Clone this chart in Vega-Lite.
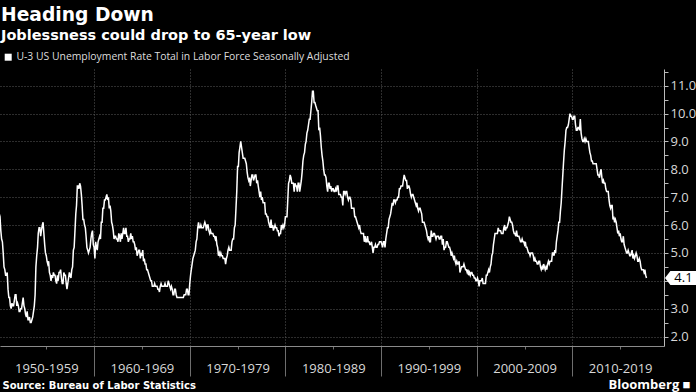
{
"$schema": "https://vega.github.io/schema/vega-lite/v6.json",
"width": 664, "height": 277,
"autosize": {"type": "none"},
"padding": {"left": 0, "top": 69, "right": 32, "bottom": 46},
"background": "black",
"title": {"text": "Heading Down", "subtitle": "Joblessness could drop to 65-year low", "anchor": "start", "frame": "group", "dx": 1, "offset": 10, "font": "DejaVu Sans", "fontSize": 18.7, "fontWeight": "bold", "color": "white", "subtitleFont": "DejaVu Sans", "subtitleFontSize": 14.5, "subtitleFontWeight": "bold", "subtitleColor": "white", "subtitlePadding": 4},
"datasets": {
"u": [
{"t":"1950-01-01","u":6.5},{"t":"1950-02-01","u":6.4},{"t":"1950-03-01","u":6.3},{"t":"1950-04-01","u":5.8},{"t":"1950-05-01","u":5.5},{"t":"1950-06-01","u":5.4},{"t":"1950-07-01","u":5.0},{"t":"1950-08-01","u":4.5},{"t":"1950-09-01","u":4.4},{"t":"1950-10-01","u":4.2},{"t":"1950-11-01","u":4.2},{"t":"1950-12-01","u":4.3},
{"t":"1951-01-01","u":3.7},{"t":"1951-02-01","u":3.4},{"t":"1951-03-01","u":3.4},{"t":"1951-04-01","u":3.1},{"t":"1951-05-01","u":3.0},{"t":"1951-06-01","u":3.2},{"t":"1951-07-01","u":3.1},{"t":"1951-08-01","u":3.1},{"t":"1951-09-01","u":3.3},{"t":"1951-10-01","u":3.5},{"t":"1951-11-01","u":3.5},{"t":"1951-12-01","u":3.1},
{"t":"1952-01-01","u":3.2},{"t":"1952-02-01","u":3.1},{"t":"1952-03-01","u":2.9},{"t":"1952-04-01","u":2.9},{"t":"1952-05-01","u":3.0},{"t":"1952-06-01","u":3.0},{"t":"1952-07-01","u":3.2},{"t":"1952-08-01","u":3.4},{"t":"1952-09-01","u":3.1},{"t":"1952-10-01","u":3.0},{"t":"1952-11-01","u":2.8},{"t":"1952-12-01","u":2.7},
{"t":"1953-01-01","u":2.9},{"t":"1953-02-01","u":2.6},{"t":"1953-03-01","u":2.6},{"t":"1953-04-01","u":2.7},{"t":"1953-05-01","u":2.5},{"t":"1953-06-01","u":2.5},{"t":"1953-07-01","u":2.6},{"t":"1953-08-01","u":2.7},{"t":"1953-09-01","u":2.9},{"t":"1953-10-01","u":3.1},{"t":"1953-11-01","u":3.5},{"t":"1953-12-01","u":4.5},
{"t":"1954-01-01","u":4.9},{"t":"1954-02-01","u":5.2},{"t":"1954-03-01","u":5.7},{"t":"1954-04-01","u":5.9},{"t":"1954-05-01","u":5.9},{"t":"1954-06-01","u":5.6},{"t":"1954-07-01","u":5.8},{"t":"1954-08-01","u":6.0},{"t":"1954-09-01","u":6.1},{"t":"1954-10-01","u":5.7},{"t":"1954-11-01","u":5.3},{"t":"1954-12-01","u":5.0},
{"t":"1955-01-01","u":4.9},{"t":"1955-02-01","u":4.7},{"t":"1955-03-01","u":4.6},{"t":"1955-04-01","u":4.7},{"t":"1955-05-01","u":4.3},{"t":"1955-06-01","u":4.2},{"t":"1955-07-01","u":4.0},{"t":"1955-08-01","u":4.2},{"t":"1955-09-01","u":4.1},{"t":"1955-10-01","u":4.3},{"t":"1955-11-01","u":4.2},{"t":"1955-12-01","u":4.2},
{"t":"1956-01-01","u":4.0},{"t":"1956-02-01","u":3.9},{"t":"1956-03-01","u":4.2},{"t":"1956-04-01","u":4.0},{"t":"1956-05-01","u":4.3},{"t":"1956-06-01","u":4.3},{"t":"1956-07-01","u":4.4},{"t":"1956-08-01","u":4.1},{"t":"1956-09-01","u":3.9},{"t":"1956-10-01","u":3.9},{"t":"1956-11-01","u":4.3},{"t":"1956-12-01","u":4.2},
{"t":"1957-01-01","u":4.2},{"t":"1957-02-01","u":3.9},{"t":"1957-03-01","u":3.7},{"t":"1957-04-01","u":3.9},{"t":"1957-05-01","u":4.1},{"t":"1957-06-01","u":4.3},{"t":"1957-07-01","u":4.2},{"t":"1957-08-01","u":4.1},{"t":"1957-09-01","u":4.4},{"t":"1957-10-01","u":4.5},{"t":"1957-11-01","u":5.1},{"t":"1957-12-01","u":5.2},
{"t":"1958-01-01","u":5.8},{"t":"1958-02-01","u":6.4},{"t":"1958-03-01","u":6.7},{"t":"1958-04-01","u":7.4},{"t":"1958-05-01","u":7.4},{"t":"1958-06-01","u":7.3},{"t":"1958-07-01","u":7.5},{"t":"1958-08-01","u":7.4},{"t":"1958-09-01","u":7.1},{"t":"1958-10-01","u":6.7},{"t":"1958-11-01","u":6.2},{"t":"1958-12-01","u":6.2},
{"t":"1959-01-01","u":6.0},{"t":"1959-02-01","u":5.9},{"t":"1959-03-01","u":5.6},{"t":"1959-04-01","u":5.2},{"t":"1959-05-01","u":5.1},{"t":"1959-06-01","u":5.0},{"t":"1959-07-01","u":5.1},{"t":"1959-08-01","u":5.2},{"t":"1959-09-01","u":5.5},{"t":"1959-10-01","u":5.7},{"t":"1959-11-01","u":5.8},{"t":"1959-12-01","u":5.3},
{"t":"1960-01-01","u":5.2},{"t":"1960-02-01","u":4.8},{"t":"1960-03-01","u":5.4},{"t":"1960-04-01","u":5.2},{"t":"1960-05-01","u":5.1},{"t":"1960-06-01","u":5.4},{"t":"1960-07-01","u":5.5},{"t":"1960-08-01","u":5.6},{"t":"1960-09-01","u":5.5},{"t":"1960-10-01","u":6.1},{"t":"1960-11-01","u":6.1},{"t":"1960-12-01","u":6.6},
{"t":"1961-01-01","u":6.6},{"t":"1961-02-01","u":6.9},{"t":"1961-03-01","u":6.9},{"t":"1961-04-01","u":7.0},{"t":"1961-05-01","u":7.1},{"t":"1961-06-01","u":6.9},{"t":"1961-07-01","u":7.0},{"t":"1961-08-01","u":6.6},{"t":"1961-09-01","u":6.7},{"t":"1961-10-01","u":6.5},{"t":"1961-11-01","u":6.1},{"t":"1961-12-01","u":6.0},
{"t":"1962-01-01","u":5.8},{"t":"1962-02-01","u":5.5},{"t":"1962-03-01","u":5.6},{"t":"1962-04-01","u":5.6},{"t":"1962-05-01","u":5.5},{"t":"1962-06-01","u":5.5},{"t":"1962-07-01","u":5.4},{"t":"1962-08-01","u":5.7},{"t":"1962-09-01","u":5.6},{"t":"1962-10-01","u":5.4},{"t":"1962-11-01","u":5.7},{"t":"1962-12-01","u":5.5},
{"t":"1963-01-01","u":5.7},{"t":"1963-02-01","u":5.9},{"t":"1963-03-01","u":5.7},{"t":"1963-04-01","u":5.7},{"t":"1963-05-01","u":5.9},{"t":"1963-06-01","u":5.6},{"t":"1963-07-01","u":5.6},{"t":"1963-08-01","u":5.4},{"t":"1963-09-01","u":5.5},{"t":"1963-10-01","u":5.5},{"t":"1963-11-01","u":5.7},{"t":"1963-12-01","u":5.5},
{"t":"1964-01-01","u":5.6},{"t":"1964-02-01","u":5.4},{"t":"1964-03-01","u":5.4},{"t":"1964-04-01","u":5.3},{"t":"1964-05-01","u":5.1},{"t":"1964-06-01","u":5.2},{"t":"1964-07-01","u":4.9},{"t":"1964-08-01","u":5.0},{"t":"1964-09-01","u":5.1},{"t":"1964-10-01","u":5.1},{"t":"1964-11-01","u":4.8},{"t":"1964-12-01","u":5.0},
{"t":"1965-01-01","u":4.9},{"t":"1965-02-01","u":5.1},{"t":"1965-03-01","u":4.7},{"t":"1965-04-01","u":4.8},{"t":"1965-05-01","u":4.6},{"t":"1965-06-01","u":4.6},{"t":"1965-07-01","u":4.4},{"t":"1965-08-01","u":4.4},{"t":"1965-09-01","u":4.3},{"t":"1965-10-01","u":4.2},{"t":"1965-11-01","u":4.1},{"t":"1965-12-01","u":4.0},
{"t":"1966-01-01","u":4.0},{"t":"1966-02-01","u":3.8},{"t":"1966-03-01","u":3.8},{"t":"1966-04-01","u":3.8},{"t":"1966-05-01","u":3.9},{"t":"1966-06-01","u":3.8},{"t":"1966-07-01","u":3.8},{"t":"1966-08-01","u":3.8},{"t":"1966-09-01","u":3.7},{"t":"1966-10-01","u":3.7},{"t":"1966-11-01","u":3.6},{"t":"1966-12-01","u":3.8},
{"t":"1967-01-01","u":3.9},{"t":"1967-02-01","u":3.8},{"t":"1967-03-01","u":3.8},{"t":"1967-04-01","u":3.8},{"t":"1967-05-01","u":3.8},{"t":"1967-06-01","u":3.9},{"t":"1967-07-01","u":3.8},{"t":"1967-08-01","u":3.8},{"t":"1967-09-01","u":3.8},{"t":"1967-10-01","u":4.0},{"t":"1967-11-01","u":3.9},{"t":"1967-12-01","u":3.8},
{"t":"1968-01-01","u":3.7},{"t":"1968-02-01","u":3.8},{"t":"1968-03-01","u":3.7},{"t":"1968-04-01","u":3.5},{"t":"1968-05-01","u":3.5},{"t":"1968-06-01","u":3.7},{"t":"1968-07-01","u":3.7},{"t":"1968-08-01","u":3.5},{"t":"1968-09-01","u":3.4},{"t":"1968-10-01","u":3.4},{"t":"1968-11-01","u":3.4},{"t":"1968-12-01","u":3.4},
{"t":"1969-01-01","u":3.4},{"t":"1969-02-01","u":3.4},{"t":"1969-03-01","u":3.4},{"t":"1969-04-01","u":3.4},{"t":"1969-05-01","u":3.4},{"t":"1969-06-01","u":3.5},{"t":"1969-07-01","u":3.5},{"t":"1969-08-01","u":3.5},{"t":"1969-09-01","u":3.7},{"t":"1969-10-01","u":3.7},{"t":"1969-11-01","u":3.5},{"t":"1969-12-01","u":3.5},
{"t":"1970-01-01","u":3.9},{"t":"1970-02-01","u":4.2},{"t":"1970-03-01","u":4.4},{"t":"1970-04-01","u":4.6},{"t":"1970-05-01","u":4.8},{"t":"1970-06-01","u":4.9},{"t":"1970-07-01","u":5.0},{"t":"1970-08-01","u":5.1},{"t":"1970-09-01","u":5.4},{"t":"1970-10-01","u":5.5},{"t":"1970-11-01","u":5.9},{"t":"1970-12-01","u":6.1},
{"t":"1971-01-01","u":5.9},{"t":"1971-02-01","u":5.9},{"t":"1971-03-01","u":6.0},{"t":"1971-04-01","u":5.9},{"t":"1971-05-01","u":5.9},{"t":"1971-06-01","u":5.9},{"t":"1971-07-01","u":6.0},{"t":"1971-08-01","u":6.1},{"t":"1971-09-01","u":6.0},{"t":"1971-10-01","u":5.8},{"t":"1971-11-01","u":6.0},{"t":"1971-12-01","u":6.0},
{"t":"1972-01-01","u":5.8},{"t":"1972-02-01","u":5.7},{"t":"1972-03-01","u":5.8},{"t":"1972-04-01","u":5.7},{"t":"1972-05-01","u":5.7},{"t":"1972-06-01","u":5.7},{"t":"1972-07-01","u":5.6},{"t":"1972-08-01","u":5.6},{"t":"1972-09-01","u":5.5},{"t":"1972-10-01","u":5.6},{"t":"1972-11-01","u":5.3},{"t":"1972-12-01","u":5.2},
{"t":"1973-01-01","u":4.9},{"t":"1973-02-01","u":5.0},{"t":"1973-03-01","u":4.9},{"t":"1973-04-01","u":5.0},{"t":"1973-05-01","u":4.9},{"t":"1973-06-01","u":4.9},{"t":"1973-07-01","u":4.8},{"t":"1973-08-01","u":4.8},{"t":"1973-09-01","u":4.8},{"t":"1973-10-01","u":4.6},{"t":"1973-11-01","u":4.8},{"t":"1973-12-01","u":4.9},
{"t":"1974-01-01","u":5.1},{"t":"1974-02-01","u":5.2},{"t":"1974-03-01","u":5.1},{"t":"1974-04-01","u":5.1},{"t":"1974-05-01","u":5.1},{"t":"1974-06-01","u":5.4},{"t":"1974-07-01","u":5.5},{"t":"1974-08-01","u":5.5},{"t":"1974-09-01","u":5.9},{"t":"1974-10-01","u":6.0},{"t":"1974-11-01","u":6.6},{"t":"1974-12-01","u":7.2},
{"t":"1975-01-01","u":8.1},{"t":"1975-02-01","u":8.1},{"t":"1975-03-01","u":8.6},{"t":"1975-04-01","u":8.8},{"t":"1975-05-01","u":9.0},{"t":"1975-06-01","u":8.8},{"t":"1975-07-01","u":8.6},{"t":"1975-08-01","u":8.4},{"t":"1975-09-01","u":8.4},{"t":"1975-10-01","u":8.4},{"t":"1975-11-01","u":8.3},{"t":"1975-12-01","u":8.2},
{"t":"1976-01-01","u":7.9},{"t":"1976-02-01","u":7.7},{"t":"1976-03-01","u":7.6},{"t":"1976-04-01","u":7.7},{"t":"1976-05-01","u":7.4},{"t":"1976-06-01","u":7.6},{"t":"1976-07-01","u":7.8},{"t":"1976-08-01","u":7.8},{"t":"1976-09-01","u":7.6},{"t":"1976-10-01","u":7.7},{"t":"1976-11-01","u":7.8},{"t":"1976-12-01","u":7.8},
{"t":"1977-01-01","u":7.5},{"t":"1977-02-01","u":7.6},{"t":"1977-03-01","u":7.4},{"t":"1977-04-01","u":7.2},{"t":"1977-05-01","u":7.0},{"t":"1977-06-01","u":7.2},{"t":"1977-07-01","u":6.9},{"t":"1977-08-01","u":7.0},{"t":"1977-09-01","u":6.8},{"t":"1977-10-01","u":6.8},{"t":"1977-11-01","u":6.8},{"t":"1977-12-01","u":6.4},
{"t":"1978-01-01","u":6.4},{"t":"1978-02-01","u":6.3},{"t":"1978-03-01","u":6.3},{"t":"1978-04-01","u":6.1},{"t":"1978-05-01","u":6.0},{"t":"1978-06-01","u":5.9},{"t":"1978-07-01","u":6.2},{"t":"1978-08-01","u":5.9},{"t":"1978-09-01","u":6.0},{"t":"1978-10-01","u":5.8},{"t":"1978-11-01","u":5.9},{"t":"1978-12-01","u":6.0},
{"t":"1979-01-01","u":5.9},{"t":"1979-02-01","u":5.9},{"t":"1979-03-01","u":5.8},{"t":"1979-04-01","u":5.8},{"t":"1979-05-01","u":5.6},{"t":"1979-06-01","u":5.7},{"t":"1979-07-01","u":5.7},{"t":"1979-08-01","u":6.0},{"t":"1979-09-01","u":5.9},{"t":"1979-10-01","u":6.0},{"t":"1979-11-01","u":5.9},{"t":"1979-12-01","u":6.0},
{"t":"1980-01-01","u":6.3},{"t":"1980-02-01","u":6.3},{"t":"1980-03-01","u":6.3},{"t":"1980-04-01","u":6.9},{"t":"1980-05-01","u":7.5},{"t":"1980-06-01","u":7.6},{"t":"1980-07-01","u":7.8},{"t":"1980-08-01","u":7.7},{"t":"1980-09-01","u":7.5},{"t":"1980-10-01","u":7.5},{"t":"1980-11-01","u":7.5},{"t":"1980-12-01","u":7.2},
{"t":"1981-01-01","u":7.5},{"t":"1981-02-01","u":7.4},{"t":"1981-03-01","u":7.4},{"t":"1981-04-01","u":7.2},{"t":"1981-05-01","u":7.5},{"t":"1981-06-01","u":7.5},{"t":"1981-07-01","u":7.2},{"t":"1981-08-01","u":7.4},{"t":"1981-09-01","u":7.6},{"t":"1981-10-01","u":7.9},{"t":"1981-11-01","u":8.3},{"t":"1981-12-01","u":8.5},
{"t":"1982-01-01","u":8.6},{"t":"1982-02-01","u":8.9},{"t":"1982-03-01","u":9.0},{"t":"1982-04-01","u":9.3},{"t":"1982-05-01","u":9.4},{"t":"1982-06-01","u":9.6},{"t":"1982-07-01","u":9.8},{"t":"1982-08-01","u":9.8},{"t":"1982-09-01","u":10.1},{"t":"1982-10-01","u":10.4},{"t":"1982-11-01","u":10.8},{"t":"1982-12-01","u":10.8},
{"t":"1983-01-01","u":10.4},{"t":"1983-02-01","u":10.4},{"t":"1983-03-01","u":10.3},{"t":"1983-04-01","u":10.2},{"t":"1983-05-01","u":10.1},{"t":"1983-06-01","u":10.1},{"t":"1983-07-01","u":9.4},{"t":"1983-08-01","u":9.5},{"t":"1983-09-01","u":9.2},{"t":"1983-10-01","u":8.8},{"t":"1983-11-01","u":8.5},{"t":"1983-12-01","u":8.3},
{"t":"1984-01-01","u":8.0},{"t":"1984-02-01","u":7.8},{"t":"1984-03-01","u":7.8},{"t":"1984-04-01","u":7.7},{"t":"1984-05-01","u":7.4},{"t":"1984-06-01","u":7.2},{"t":"1984-07-01","u":7.5},{"t":"1984-08-01","u":7.5},{"t":"1984-09-01","u":7.3},{"t":"1984-10-01","u":7.4},{"t":"1984-11-01","u":7.2},{"t":"1984-12-01","u":7.3},
{"t":"1985-01-01","u":7.3},{"t":"1985-02-01","u":7.2},{"t":"1985-03-01","u":7.2},{"t":"1985-04-01","u":7.3},{"t":"1985-05-01","u":7.2},{"t":"1985-06-01","u":7.4},{"t":"1985-07-01","u":7.4},{"t":"1985-08-01","u":7.1},{"t":"1985-09-01","u":7.1},{"t":"1985-10-01","u":7.1},{"t":"1985-11-01","u":7.0},{"t":"1985-12-01","u":7.0},
{"t":"1986-01-01","u":6.7},{"t":"1986-02-01","u":7.2},{"t":"1986-03-01","u":7.2},{"t":"1986-04-01","u":7.1},{"t":"1986-05-01","u":7.2},{"t":"1986-06-01","u":7.2},{"t":"1986-07-01","u":7.0},{"t":"1986-08-01","u":6.9},{"t":"1986-09-01","u":7.0},{"t":"1986-10-01","u":7.0},{"t":"1986-11-01","u":6.9},{"t":"1986-12-01","u":6.6},
{"t":"1987-01-01","u":6.6},{"t":"1987-02-01","u":6.6},{"t":"1987-03-01","u":6.6},{"t":"1987-04-01","u":6.3},{"t":"1987-05-01","u":6.3},{"t":"1987-06-01","u":6.2},{"t":"1987-07-01","u":6.1},{"t":"1987-08-01","u":6.0},{"t":"1987-09-01","u":5.9},{"t":"1987-10-01","u":6.0},{"t":"1987-11-01","u":5.8},{"t":"1987-12-01","u":5.7},
{"t":"1988-01-01","u":5.7},{"t":"1988-02-01","u":5.7},{"t":"1988-03-01","u":5.7},{"t":"1988-04-01","u":5.4},{"t":"1988-05-01","u":5.6},{"t":"1988-06-01","u":5.4},{"t":"1988-07-01","u":5.4},{"t":"1988-08-01","u":5.6},{"t":"1988-09-01","u":5.4},{"t":"1988-10-01","u":5.4},{"t":"1988-11-01","u":5.3},{"t":"1988-12-01","u":5.3},
{"t":"1989-01-01","u":5.4},{"t":"1989-02-01","u":5.2},{"t":"1989-03-01","u":5.0},{"t":"1989-04-01","u":5.2},{"t":"1989-05-01","u":5.2},{"t":"1989-06-01","u":5.3},{"t":"1989-07-01","u":5.2},{"t":"1989-08-01","u":5.2},{"t":"1989-09-01","u":5.3},{"t":"1989-10-01","u":5.3},{"t":"1989-11-01","u":5.4},{"t":"1989-12-01","u":5.4},
{"t":"1990-01-01","u":5.4},{"t":"1990-02-01","u":5.3},{"t":"1990-03-01","u":5.2},{"t":"1990-04-01","u":5.4},{"t":"1990-05-01","u":5.4},{"t":"1990-06-01","u":5.2},{"t":"1990-07-01","u":5.5},{"t":"1990-08-01","u":5.7},{"t":"1990-09-01","u":5.9},{"t":"1990-10-01","u":5.9},{"t":"1990-11-01","u":6.2},{"t":"1990-12-01","u":6.3},
{"t":"1991-01-01","u":6.4},{"t":"1991-02-01","u":6.6},{"t":"1991-03-01","u":6.8},{"t":"1991-04-01","u":6.7},{"t":"1991-05-01","u":6.9},{"t":"1991-06-01","u":6.9},{"t":"1991-07-01","u":6.8},{"t":"1991-08-01","u":6.9},{"t":"1991-09-01","u":6.9},{"t":"1991-10-01","u":7.0},{"t":"1991-11-01","u":7.0},{"t":"1991-12-01","u":7.3},
{"t":"1992-01-01","u":7.3},{"t":"1992-02-01","u":7.4},{"t":"1992-03-01","u":7.4},{"t":"1992-04-01","u":7.4},{"t":"1992-05-01","u":7.6},{"t":"1992-06-01","u":7.8},{"t":"1992-07-01","u":7.7},{"t":"1992-08-01","u":7.6},{"t":"1992-09-01","u":7.6},{"t":"1992-10-01","u":7.3},{"t":"1992-11-01","u":7.4},{"t":"1992-12-01","u":7.4},
{"t":"1993-01-01","u":7.3},{"t":"1993-02-01","u":7.1},{"t":"1993-03-01","u":7.0},{"t":"1993-04-01","u":7.1},{"t":"1993-05-01","u":7.1},{"t":"1993-06-01","u":7.0},{"t":"1993-07-01","u":6.9},{"t":"1993-08-01","u":6.8},{"t":"1993-09-01","u":6.7},{"t":"1993-10-01","u":6.8},{"t":"1993-11-01","u":6.6},{"t":"1993-12-01","u":6.5},
{"t":"1994-01-01","u":6.6},{"t":"1994-02-01","u":6.6},{"t":"1994-03-01","u":6.5},{"t":"1994-04-01","u":6.4},{"t":"1994-05-01","u":6.1},{"t":"1994-06-01","u":6.1},{"t":"1994-07-01","u":6.1},{"t":"1994-08-01","u":6.0},{"t":"1994-09-01","u":5.9},{"t":"1994-10-01","u":5.8},{"t":"1994-11-01","u":5.6},{"t":"1994-12-01","u":5.5},
{"t":"1995-01-01","u":5.6},{"t":"1995-02-01","u":5.4},{"t":"1995-03-01","u":5.4},{"t":"1995-04-01","u":5.8},{"t":"1995-05-01","u":5.6},{"t":"1995-06-01","u":5.6},{"t":"1995-07-01","u":5.7},{"t":"1995-08-01","u":5.7},{"t":"1995-09-01","u":5.6},{"t":"1995-10-01","u":5.5},{"t":"1995-11-01","u":5.6},{"t":"1995-12-01","u":5.6},
{"t":"1996-01-01","u":5.6},{"t":"1996-02-01","u":5.5},{"t":"1996-03-01","u":5.5},{"t":"1996-04-01","u":5.6},{"t":"1996-05-01","u":5.6},{"t":"1996-06-01","u":5.3},{"t":"1996-07-01","u":5.5},{"t":"1996-08-01","u":5.1},{"t":"1996-09-01","u":5.2},{"t":"1996-10-01","u":5.2},{"t":"1996-11-01","u":5.4},{"t":"1996-12-01","u":5.4},
{"t":"1997-01-01","u":5.3},{"t":"1997-02-01","u":5.2},{"t":"1997-03-01","u":5.2},{"t":"1997-04-01","u":5.1},{"t":"1997-05-01","u":4.9},{"t":"1997-06-01","u":5.0},{"t":"1997-07-01","u":4.9},{"t":"1997-08-01","u":4.8},{"t":"1997-09-01","u":4.9},{"t":"1997-10-01","u":4.7},{"t":"1997-11-01","u":4.6},{"t":"1997-12-01","u":4.7},
{"t":"1998-01-01","u":4.6},{"t":"1998-02-01","u":4.6},{"t":"1998-03-01","u":4.7},{"t":"1998-04-01","u":4.3},{"t":"1998-05-01","u":4.4},{"t":"1998-06-01","u":4.5},{"t":"1998-07-01","u":4.5},{"t":"1998-08-01","u":4.5},{"t":"1998-09-01","u":4.6},{"t":"1998-10-01","u":4.5},{"t":"1998-11-01","u":4.4},{"t":"1998-12-01","u":4.4},
{"t":"1999-01-01","u":4.3},{"t":"1999-02-01","u":4.4},{"t":"1999-03-01","u":4.2},{"t":"1999-04-01","u":4.3},{"t":"1999-05-01","u":4.2},{"t":"1999-06-01","u":4.3},{"t":"1999-07-01","u":4.3},{"t":"1999-08-01","u":4.2},{"t":"1999-09-01","u":4.2},{"t":"1999-10-01","u":4.1},{"t":"1999-11-01","u":4.1},{"t":"1999-12-01","u":4.0},
{"t":"2000-01-01","u":4.0},{"t":"2000-02-01","u":4.1},{"t":"2000-03-01","u":4.0},{"t":"2000-04-01","u":3.8},{"t":"2000-05-01","u":4.0},{"t":"2000-06-01","u":4.0},{"t":"2000-07-01","u":4.0},{"t":"2000-08-01","u":4.1},{"t":"2000-09-01","u":3.9},{"t":"2000-10-01","u":3.9},{"t":"2000-11-01","u":3.9},{"t":"2000-12-01","u":3.9},
{"t":"2001-01-01","u":4.2},{"t":"2001-02-01","u":4.2},{"t":"2001-03-01","u":4.3},{"t":"2001-04-01","u":4.4},{"t":"2001-05-01","u":4.3},{"t":"2001-06-01","u":4.5},{"t":"2001-07-01","u":4.6},{"t":"2001-08-01","u":4.9},{"t":"2001-09-01","u":5.0},{"t":"2001-10-01","u":5.3},{"t":"2001-11-01","u":5.5},{"t":"2001-12-01","u":5.7},
{"t":"2002-01-01","u":5.7},{"t":"2002-02-01","u":5.7},{"t":"2002-03-01","u":5.7},{"t":"2002-04-01","u":5.9},{"t":"2002-05-01","u":5.8},{"t":"2002-06-01","u":5.8},{"t":"2002-07-01","u":5.8},{"t":"2002-08-01","u":5.7},{"t":"2002-09-01","u":5.7},{"t":"2002-10-01","u":5.7},{"t":"2002-11-01","u":5.9},{"t":"2002-12-01","u":6.0},
{"t":"2003-01-01","u":5.8},{"t":"2003-02-01","u":5.9},{"t":"2003-03-01","u":5.9},{"t":"2003-04-01","u":6.0},{"t":"2003-05-01","u":6.1},{"t":"2003-06-01","u":6.3},{"t":"2003-07-01","u":6.2},{"t":"2003-08-01","u":6.1},{"t":"2003-09-01","u":6.1},{"t":"2003-10-01","u":6.0},{"t":"2003-11-01","u":5.8},{"t":"2003-12-01","u":5.7},
{"t":"2004-01-01","u":5.7},{"t":"2004-02-01","u":5.6},{"t":"2004-03-01","u":5.8},{"t":"2004-04-01","u":5.6},{"t":"2004-05-01","u":5.6},{"t":"2004-06-01","u":5.6},{"t":"2004-07-01","u":5.5},{"t":"2004-08-01","u":5.4},{"t":"2004-09-01","u":5.4},{"t":"2004-10-01","u":5.5},{"t":"2004-11-01","u":5.4},{"t":"2004-12-01","u":5.4},
{"t":"2005-01-01","u":5.3},{"t":"2005-02-01","u":5.4},{"t":"2005-03-01","u":5.2},{"t":"2005-04-01","u":5.2},{"t":"2005-05-01","u":5.1},{"t":"2005-06-01","u":5.0},{"t":"2005-07-01","u":5.0},{"t":"2005-08-01","u":4.9},{"t":"2005-09-01","u":5.0},{"t":"2005-10-01","u":5.0},{"t":"2005-11-01","u":5.0},{"t":"2005-12-01","u":4.9},
{"t":"2006-01-01","u":4.7},{"t":"2006-02-01","u":4.8},{"t":"2006-03-01","u":4.7},{"t":"2006-04-01","u":4.7},{"t":"2006-05-01","u":4.6},{"t":"2006-06-01","u":4.6},{"t":"2006-07-01","u":4.7},{"t":"2006-08-01","u":4.7},{"t":"2006-09-01","u":4.5},{"t":"2006-10-01","u":4.4},{"t":"2006-11-01","u":4.5},{"t":"2006-12-01","u":4.4},
{"t":"2007-01-01","u":4.6},{"t":"2007-02-01","u":4.5},{"t":"2007-03-01","u":4.4},{"t":"2007-04-01","u":4.5},{"t":"2007-05-01","u":4.4},{"t":"2007-06-01","u":4.6},{"t":"2007-07-01","u":4.7},{"t":"2007-08-01","u":4.6},{"t":"2007-09-01","u":4.7},{"t":"2007-10-01","u":4.7},{"t":"2007-11-01","u":4.7},{"t":"2007-12-01","u":5.0},
{"t":"2008-01-01","u":5.0},{"t":"2008-02-01","u":4.9},{"t":"2008-03-01","u":5.1},{"t":"2008-04-01","u":5.0},{"t":"2008-05-01","u":5.4},{"t":"2008-06-01","u":5.6},{"t":"2008-07-01","u":5.8},{"t":"2008-08-01","u":6.1},{"t":"2008-09-01","u":6.1},{"t":"2008-10-01","u":6.5},{"t":"2008-11-01","u":6.8},{"t":"2008-12-01","u":7.3},
{"t":"2009-01-01","u":7.8},{"t":"2009-02-01","u":8.3},{"t":"2009-03-01","u":8.7},{"t":"2009-04-01","u":9.0},{"t":"2009-05-01","u":9.4},{"t":"2009-06-01","u":9.5},{"t":"2009-07-01","u":9.5},{"t":"2009-08-01","u":9.6},{"t":"2009-09-01","u":9.8},{"t":"2009-10-01","u":10.0},{"t":"2009-11-01","u":9.9},{"t":"2009-12-01","u":9.9},
{"t":"2010-01-01","u":9.8},{"t":"2010-02-01","u":9.8},{"t":"2010-03-01","u":9.9},{"t":"2010-04-01","u":9.9},{"t":"2010-05-01","u":9.6},{"t":"2010-06-01","u":9.4},{"t":"2010-07-01","u":9.4},{"t":"2010-08-01","u":9.5},{"t":"2010-09-01","u":9.5},{"t":"2010-10-01","u":9.4},{"t":"2010-11-01","u":9.8},{"t":"2010-12-01","u":9.3},
{"t":"2011-01-01","u":9.1},{"t":"2011-02-01","u":9.0},{"t":"2011-03-01","u":9.0},{"t":"2011-04-01","u":9.1},{"t":"2011-05-01","u":9.0},{"t":"2011-06-01","u":9.1},{"t":"2011-07-01","u":9.0},{"t":"2011-08-01","u":9.0},{"t":"2011-09-01","u":9.0},{"t":"2011-10-01","u":8.8},{"t":"2011-11-01","u":8.6},{"t":"2011-12-01","u":8.5},
{"t":"2012-01-01","u":8.3},{"t":"2012-02-01","u":8.3},{"t":"2012-03-01","u":8.2},{"t":"2012-04-01","u":8.2},{"t":"2012-05-01","u":8.2},{"t":"2012-06-01","u":8.2},{"t":"2012-07-01","u":8.2},{"t":"2012-08-01","u":8.0},{"t":"2012-09-01","u":7.8},{"t":"2012-10-01","u":7.8},{"t":"2012-11-01","u":7.7},{"t":"2012-12-01","u":7.9},
{"t":"2013-01-01","u":8.0},{"t":"2013-02-01","u":7.7},{"t":"2013-03-01","u":7.5},{"t":"2013-04-01","u":7.6},{"t":"2013-05-01","u":7.5},{"t":"2013-06-01","u":7.5},{"t":"2013-07-01","u":7.3},{"t":"2013-08-01","u":7.2},{"t":"2013-09-01","u":7.2},{"t":"2013-10-01","u":7.2},{"t":"2013-11-01","u":6.9},{"t":"2013-12-01","u":6.7},
{"t":"2014-01-01","u":6.6},{"t":"2014-02-01","u":6.7},{"t":"2014-03-01","u":6.7},{"t":"2014-04-01","u":6.2},{"t":"2014-05-01","u":6.3},{"t":"2014-06-01","u":6.1},{"t":"2014-07-01","u":6.2},{"t":"2014-08-01","u":6.1},{"t":"2014-09-01","u":5.9},{"t":"2014-10-01","u":5.7},{"t":"2014-11-01","u":5.8},{"t":"2014-12-01","u":5.6},
{"t":"2015-01-01","u":5.7},{"t":"2015-02-01","u":5.5},{"t":"2015-03-01","u":5.4},{"t":"2015-04-01","u":5.4},{"t":"2015-05-01","u":5.6},{"t":"2015-06-01","u":5.3},{"t":"2015-07-01","u":5.2},{"t":"2015-08-01","u":5.1},{"t":"2015-09-01","u":5.0},{"t":"2015-10-01","u":5.0},{"t":"2015-11-01","u":5.1},{"t":"2015-12-01","u":5.0},
{"t":"2016-01-01","u":4.9},{"t":"2016-02-01","u":4.9},{"t":"2016-03-01","u":5.0},{"t":"2016-04-01","u":5.1},{"t":"2016-05-01","u":4.8},{"t":"2016-06-01","u":4.9},{"t":"2016-07-01","u":4.8},{"t":"2016-08-01","u":4.9},{"t":"2016-09-01","u":5.0},{"t":"2016-10-01","u":4.9},{"t":"2016-11-01","u":4.7},{"t":"2016-12-01","u":4.7},
{"t":"2017-01-01","u":4.8},{"t":"2017-02-01","u":4.7},{"t":"2017-03-01","u":4.5},{"t":"2017-04-01","u":4.4},{"t":"2017-05-01","u":4.4},{"t":"2017-06-01","u":4.4},{"t":"2017-07-01","u":4.3},{"t":"2017-08-01","u":4.4},{"t":"2017-09-01","u":4.2},{"t":"2017-10-01","u":4.1}
],
"last": [{"t":"2017-10-01","u":4.1,"lab":"4.1"}]
},
"encoding": {
  "x": {"field": "t", "type": "temporal",
    "scale": {"type": "utc", "domain": [{"year": 1950, "month": 3, "date": 1, "utc": true}, {"year": 2019, "month": 8, "date": 1, "utc": true}]},
    "axis": {
      "values": [{"year":1955,"utc":true},{"year":1960,"utc":true},{"year":1965,"utc":true},{"year":1970,"utc":true},{"year":1975,"utc":true},{"year":1980,"utc":true},{"year":1985,"utc":true},{"year":1990,"utc":true},{"year":1995,"utc":true},{"year":2000,"utc":true},{"year":2005,"utc":true},{"year":2010,"utc":true},{"year":2015,"utc":true}],
      "labelExpr": "utcyear(datum.value) % 10 == 5 ? (utcyear(datum.value) - 5) + '-' + (utcyear(datum.value) + 4) : ''",
      "tickSize": {"condition": {"test": "utcyear(datum.value) % 10 == 0", "value": 30}, "value": 3},
      "tickColor": "#6e6e6e",
      "domainColor": "#8a8a8a",
      "grid": true,
      "gridColor": "#5a5a5a",
      "gridDash": [1, 2],
      "gridOpacity": {"condition": {"test": "utcyear(datum.value) % 10 == 0", "value": 1}, "value": 0},
      "labelColor": "#d8d8d8", "labelFont": "Open Sans", "labelFontSize": 13,
      "labelPadding": 13, "labelFlush": false, "labelOverlap": false, "labelBound": false,
      "title": "Source: Bureau of Labor Statistics",
      "titleFont": "DejaVu Sans", "titleFontSize": 10, "titleFontWeight": "bold", "titleColor": "white",
      "titleAnchor": "start", "titleAlign": "left", "titleBaseline": "alphabetic", "titleX": 2, "titleY": 42
    }
  },
  "y": {"field": "u", "type": "quantitative",
    "scale": {"domain": [1.66, 11.6], "zero": false, "nice": false},
    "axis": {
      "orient": "right",
      "values": [2, 2.5, 3, 3.5, 4, 4.5, 5, 5.5, 6, 6.5, 7, 7.5, 8, 8.5, 9, 9.5, 10, 10.5, 11, 11.5],
      "labelExpr": "datum.value % 1 == 0 && datum.value != 4 ? format(datum.value, '.1f') : ''",
      "tickSize": 4, "tickColor": "#bbbbbb", "domainColor": "#bbbbbb",
      "grid": true, "gridColor": "#5a5a5a", "gridDash": [1, 2],
      "gridOpacity": {"condition": {"test": "datum.value % 1 == 0 && datum.value < 11.5", "value": 1}, "value": 0},
      "labelColor": "#d8d8d8", "labelFont": "Open Sans", "labelFontSize": 13, "labelPadding": 2,
      "labelOverlap": false, "labelFlush": false, "labelBound": false,
      "title": "Bloomberg ■", "titleAngle": 0, "titleFont": "Open Sans", "titleFontSize": 13, "titleFontWeight": "bold", "titleColor": "white",
      "titleAlign": "left", "titleBaseline": "alphabetic", "titleX": -56, "titleY": 319
    }
  }
},
"layer": [
  {"data": {"name": "u"},
   "mark": {"type": "line", "color": "white", "strokeWidth": 1.5, "clip": true},
   "encoding": {"color": {"datum": "U-3 US Unemployment Rate Total in Labor Force Seasonally Adjusted", "type": "nominal",
      "scale": {"range": ["white"]},
      "legend": {"orient": "none", "legendX": 3, "legendY": -17, "title": null, "symbolType": "square", "symbolSize": 49, "symbolFillColor": "white", "symbolStrokeColor": "white", "symbolStrokeWidth": 0, "labelColor": "#dddddd", "labelFont": "Open Sans", "labelFontSize": 10.4, "labelOffset": 3, "labelLimit": 0, "padding": 0}}}
  },
  {"data": {"name": "last"},
   "mark": {"type": "point", "shape": "M -1 0 L -0.65 -0.45 L 1 -0.45 L 1 0.45 L -0.65 0.45 Z", "filled": true, "color": "white", "opacity": 1, "size": 961, "xOffset": 34, "clip": false}
  },
  {"data": {"name": "last"},
   "mark": {"type": "text", "color": "black", "font": "Open Sans", "fontSize": 13, "align": "center", "baseline": "middle", "dx": 37, "clip": false},
   "encoding": {"text": {"field": "lab"}}
  }
],
"config": {"view": {"stroke": null}}
}
